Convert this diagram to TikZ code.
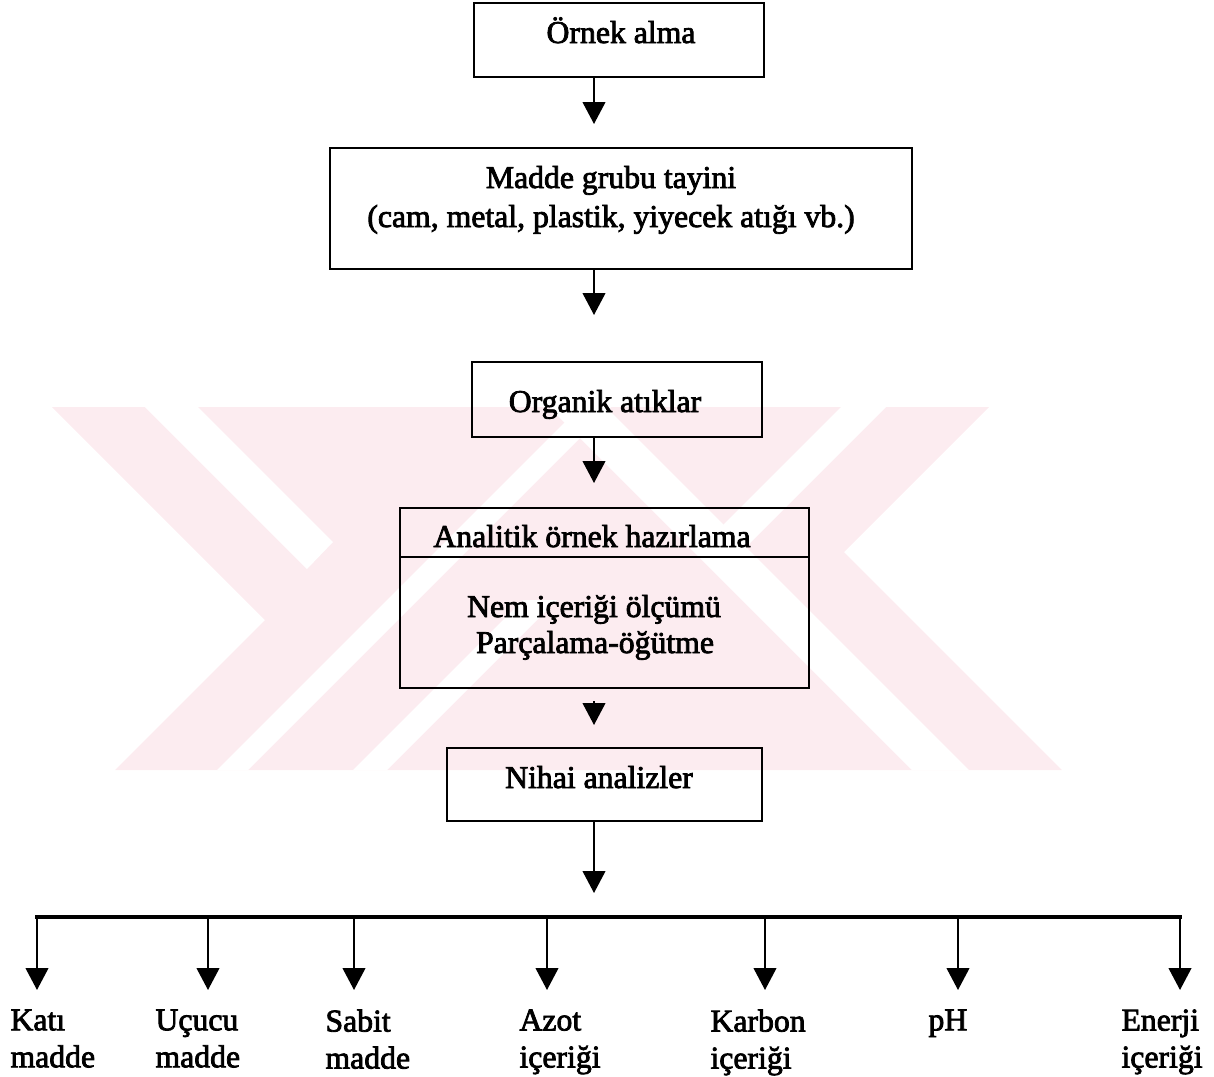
\documentclass[tikz,border=0pt]{standalone}
\usepackage{fontspec}
\setmainfont{Liberation Serif}
\usetikzlibrary{arrows.meta,fit}

\definecolor{wmpink}{RGB}{252,236,240}

\tikzset{every picture/.style={line width=0.75pt}}
\tikzset{
  kutu/.style={draw, line width=2pt, inner sep=0pt},
  yazi/.style={inner sep=0pt, font=\fontsize{23.8}{27.75}\selectfont\addfontfeatures{FakeBold=2.5}},
  ok/.style={line width=1.6pt, -{Triangle[length=16.5pt,width=17pt]}},
}

\begin{document}
\begin{tikzpicture}[x=0.75pt,y=0.75pt,yscale=-1,xscale=1]
\useasboundingbox (0,0) rectangle (1214,1076);

%Watermark (background)
\fill[wmpink] (52,407) -- (989,407) -- (844,552) -- (1062,770) -- (115,770) -- (265,620) -- cycle;
\fill[white] (145,407) -- (198,407) -- (333,542) -- (307,569) -- cycle;
\fill[white] (841,407) -- (886,407) -- (726,567) -- (701,547) -- cycle;
\fill[white] (217,770) -- (248,770) -- (611,407) -- (580,407) -- cycle;
\fill[white] (912,770) -- (969,770) -- (606,407) -- (549,407) -- cycle;
\fill[white] (353,770) -- (387,770) -- (557,600) -- (523,600) -- cycle;

%Shape: Rectangle boxes
\node[kutu, fit={(474,3) (764,77)}] (ornek) {};
\node[kutu, fit={(330,148) (912,269)}] (grup) {};
\node[kutu, fit={(472,362) (762,437)}] (organik) {};
\node[kutu, fit={(400,508) (809,557)}] (hazir) {};
\node[kutu, fit={(400,557) (809,688)}] (olcum) {};
\node[kutu, fit={(447,748) (762,821)}] (nihai) {};

% Text Node
\node[yazi, anchor=base] (tOrnek) at (621,43) {Örnek alma};
% Text Node
\node[yazi, anchor=base] (tGrup) at (611,188) {Madde grubu tayini};
% Text Node
\node[yazi, anchor=base] (tCam) at (611,227) {(cam, metal, plastik, yiyecek atığı vb.)};
% Text Node
\node[yazi, anchor=base] (tOrganik) at (605,412) {Organik atıklar};
% Text Node
\node[yazi, anchor=base] (tHazir) at (592,547) {Analitik örnek hazırlama};
% Text Node
\node[yazi, anchor=base] (tNem) at (594,617) {Nem içeriği ölçümü};
% Text Node
\node[yazi, anchor=base] (tParca) at (595,653) {Parçalama-öğütme};
% Text Node
\node[yazi, anchor=base] (tNihai) at (599,788) {Nihai analizler};

%Straight Lines (arrows)
\coordinate (eksen) at (594,0);
\coordinate (uc1) at (594,124);
\coordinate (uc2) at (594,315);
\coordinate (uc3) at (594,483);
\coordinate (uc4) at (594,725);
\coordinate (uc5) at (594,893);
\draw[ok] (ornek.south -| eksen) -- (uc1);
\draw[ok] (grup.south -| eksen) -- (uc2);
\draw[ok] (organik.south -| eksen) -- (uc3);
\draw[ok, shorten <=9pt] (olcum.south -| eksen) -- (uc4);
\draw[ok] (nihai.south -| eksen) -- (uc5);

%Branches to results
\foreach \ad/\x/\lx/\metin in {kati/37/10/{Katı\\madde}, ucucu/208/155/{Uçucu\\madde}, sabit/354/325/{Sabit\\madde}, azot/547/519/{Azot\\içeriği}, karbon/765/710/{Karbon\\içeriği}, ph/958/928/{pH}, enerji/1180/1121/{Enerji\\içeriği}}{
  \node[yazi, anchor=north west, align=left] (\ad) at (\lx,1009) {\metin};
  \coordinate (k\ad) at (\x,917);
  \draw[ok, shorten >=14.25pt] (k\ad) -- (k\ad |- \ad.north);
}
\draw[line width=2.5pt, line cap=rect] (kkati) -- (kenerji);

\end{tikzpicture}
\end{document}
